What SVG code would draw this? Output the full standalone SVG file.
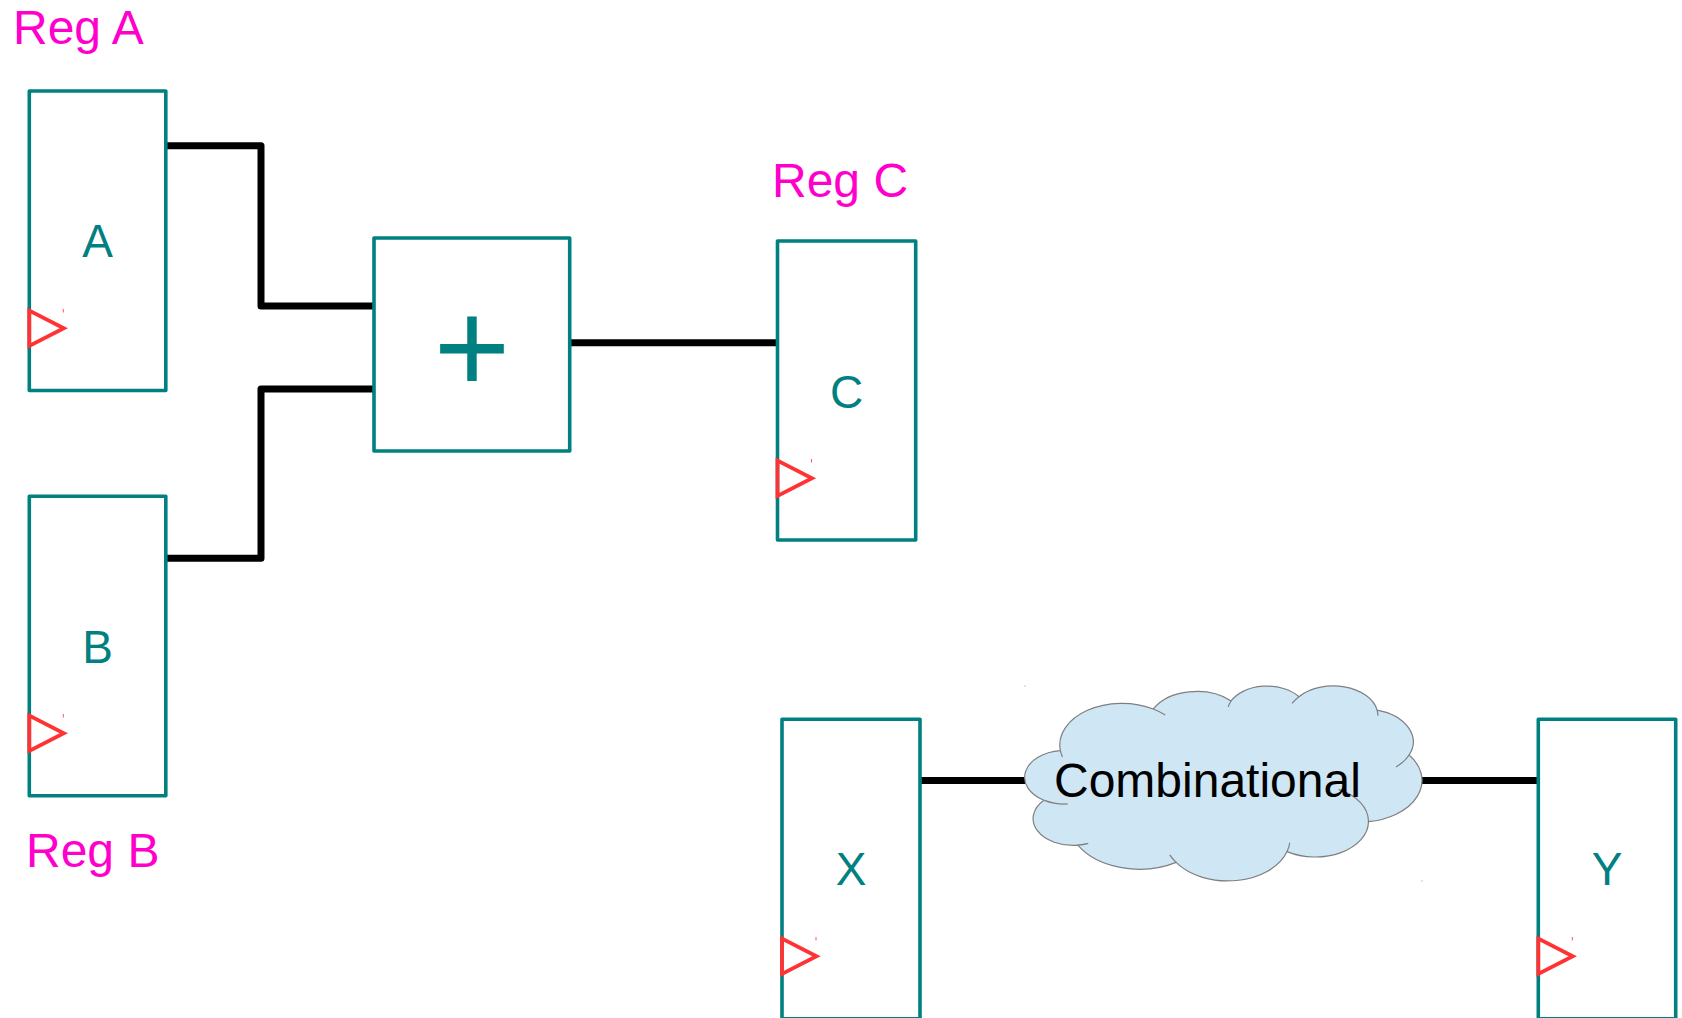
<svg xmlns="http://www.w3.org/2000/svg" width="1682" height="1018" viewBox="0 0 1682 1018">
  <style>
    .reg { fill: #ffffff; stroke: #008080; stroke-width: 3.6; stroke-linejoin: round; }
    .clk { fill: none; stroke: #ff3333; stroke-width: 3.8; stroke-linejoin: miter; }
    .tick { stroke: #ff5555; stroke-width: 1; }
    .wire { fill: none; stroke: #000000; stroke-width: 7; stroke-linejoin: round; stroke-linecap: butt; }
    .name { font-family: "Liberation Sans", Arial, sans-serif; font-size: 46px; fill: #008080; text-anchor: middle; }
    .tag { font-family: "Liberation Sans", Arial, sans-serif; font-size: 48px; fill: #ff00cc; }
    .cloud { fill: #cfe7f5; stroke: #7f7f7f; stroke-width: 1.2; }
    .cloud-hook { fill: none; stroke: #7f7f7f; stroke-width: 1.2; }
  </style>
  <defs>
    <!-- clock input symbol, placed at each register's left edge -->
    <g id="clock">
      <polygon class="clk" points="0,-1.5 0,34 34.5,16.25"/>
      <line class="tick" x1="34" y1="-3" x2="34" y2="0.5"/>
    </g>
  </defs>

  <rect width="1682" height="1018" fill="#ffffff"/>

  <!-- wires -->
  <g id="connectors">
    <polyline class="wire" points="166,145.8 261,145.8 261,306 374,306"/>
    <polyline class="wire" points="166,558.3 261,558.3 261,389 374,389"/>
    <line class="wire" x1="569.7" y1="342.7" x2="777.5" y2="342.7"/>
    <line class="wire" x1="920" y1="780.5" x2="1032" y2="780.5"/>
    <line class="wire" x1="1416" y1="780.5" x2="1538.3" y2="780.5"/>
  </g>

  <!-- register A -->
  <g id="regA">
    <rect class="reg" x="29.3" y="91" width="136.5" height="299.5"/>
    <use href="#clock" x="29.3" y="312"/>
    <text class="name" x="97.5" y="257.3">A</text>
    <text class="tag" x="13" y="43.5">Reg A</text>
  </g>

  <!-- register B -->
  <g id="regB">
    <rect class="reg" x="29.3" y="496.3" width="136.5" height="299.5"/>
    <use href="#clock" x="29.3" y="717"/>
    <text class="name" x="97.5" y="662.5">B</text>
    <text class="tag" x="26" y="867">Reg B</text>
  </g>

  <!-- adder -->
  <g id="adder">
    <rect class="reg" x="374" y="238" width="195.7" height="213"/>
    <text class="name" x="472" y="392.5" style="font-size:131px">+</text>
  </g>

  <!-- register C -->
  <g id="regC">
    <rect class="reg" x="777.5" y="241" width="138.2" height="299"/>
    <use href="#clock" x="777.5" y="462"/>
    <text class="name" x="846.6" y="407.5">C</text>
    <text class="tag" x="772" y="196.5">Reg C</text>
  </g>

  <!-- register X -->
  <g id="regX">
    <rect class="reg" x="782" y="719.2" width="138" height="299.5"/>
    <use href="#clock" x="782" y="940"/>
    <text class="name" x="851" y="885.3">X</text>
  </g>

  <!-- combinational logic cloud -->
  <g id="logic">
    <g transform="translate(1024.5,685.5) scale(0.0092014,0.0045255)">
      <path class="cloud" vector-effect="non-scaling-stroke" d="M 3900 14370 A 6753 9190 0 0 1 14000 5192 A 5333 7267 0 0 1 22451 3423 A 4365 5945 0 0 1 29828 2472 A 4857 6595 0 0 1 38324 5426 A 5333 7273 0 0 1 41798 15354 A 6775 9220 0 0 1 37384 30097 A 5785 7867 0 0 1 28535 36707 A 6752 9215 0 0 1 16478 39090 A 7720 10543 0 0 1 5802 35293 A 4360 5918 0 0 1 2111 25370 A 4345 5945 0 0 1 3900 14370 Z"/>
      <path class="cloud-hook" vector-effect="non-scaling-stroke" d="M 4693 26177 A 4345 5945 0 0 1 2160 25380 M 6928 34899 A 4360 5918 0 0 1 5802 35293 M 16478 39090 A 6752 9215 0 0 1 15792 37418 M 28827 34751 A 6752 9215 0 0 1 28535 36707 M 34129 22954 A 5785 7867 0 0 1 37384 30097 M 41798 15354 A 5333 7273 0 0 1 40377 17986 M 38324 5426 A 4857 6595 0 0 1 38400 6690 M 29078 3952 A 4857 6595 0 0 1 29828 2472 M 22141 4720 A 4365 5945 0 0 1 22451 3423 M 14000 5192 A 6753 9190 0 0 1 15299 6540 M 4127 15789 A 6753 9190 0 0 1 3900 14370"/>
    </g>
    <rect x="1024.5" y="685.5" width="1" height="1" fill="#999999"/>
    <rect x="1421.5" y="880.5" width="1" height="1" fill="#999999"/>
    <text x="1054" y="797" style="font-family:'Liberation Sans', Arial, sans-serif; font-size:48px; fill:#000000">Combinational</text>
  </g>

  <!-- register Y -->
  <g id="regY">
    <rect class="reg" x="1538.3" y="719.2" width="137.4" height="299.5"/>
    <use href="#clock" x="1538.3" y="940"/>
    <text class="name" x="1607" y="885.3">Y</text>
  </g>
</svg>
